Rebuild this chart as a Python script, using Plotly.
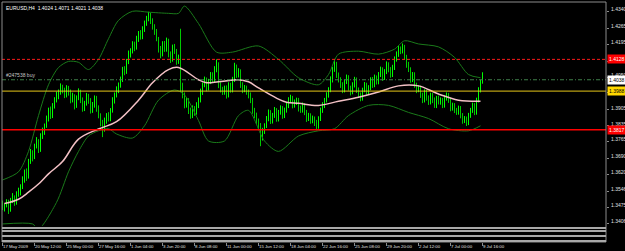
import plotly.graph_objects as go

# ---------------- data (EURUSD H4) ----------------
first_open = 1.3490
closes = [1.3475,1.3484,1.3497,1.3466,1.3506,1.3520,1.3497,1.3533,1.3542,
          1.3565,1.3596,1.3632,1.3610,1.3677,1.3713,
          1.3700,1.3745,1.3767,1.3731,1.3790,1.3812,1.3835,
          1.3866,1.3903,1.3880,1.3925,1.3948,1.3970,1.3984,1.4002,
          1.3993,1.3970,1.4002,1.3984,1.3948,1.3966,1.3925,1.3957,1.3984,1.3948,1.3912,1.3934,1.3966,1.3948,1.3903,1.3925,1.3957,1.3912,1.3880,
          1.3849,1.3821,1.3857,1.3880,1.3866,1.3903,
          1.3948,1.3970,1.3993,1.4015,1.4038,1.4083,1.4074,1.4119,1.4151,
          1.4164,1.4196,1.4182,1.4218,1.4241,1.4227,1.4263,
          1.4286,1.4308,1.4322,1.4299,1.4272,1.4250,
          1.4218,1.4173,1.4151,1.4196,
          1.4173,1.4209,1.4151,1.4128,1.4182,1.4164,1.4119,1.4137,
          1.4015,
          1.3970,1.3925,1.3948,1.3903,1.3880,1.3912,1.3894,1.3925,1.3948,
          1.3984,1.4015,1.4038,1.4002,1.4029,
          1.4060,1.4038,1.4083,1.4105,1.4015,
          1.3993,1.3984,1.4002,1.3970,1.4015,1.3993,
          1.4038,1.4083,1.4060,1.4074,
          1.4015,1.3993,1.4002,1.3984,1.3970,
          1.3948,1.3903,1.3880,1.3857,1.3835,1.3790,1.3812,1.3835,
          1.3866,1.3894,1.3857,1.3880,1.3903,1.3866,1.3894,1.3912,1.3880,1.3903,1.3925,
          1.3948,1.3957,1.3925,1.3939,1.3948,1.3912,
          1.3903,1.3925,1.3894,1.3866,1.3880,1.3857,1.3866,1.3849,1.3835,
          1.3866,1.3903,1.3925,1.3948,1.3970,1.3993,1.4038,1.4083,1.4105,1.4060,
          1.4038,1.4015,1.3993,1.4029,1.4047,1.4002,1.3984,1.4015,1.4038,1.3993,
          1.3970,1.3957,1.3993,1.4015,1.3984,1.4002,1.4038,1.4015,1.4047,1.4029,
          1.4060,1.4083,1.4047,1.4074,1.4105,1.4083,1.4060,1.4092,
          1.4128,1.4151,1.4173,1.4164,1.4182,1.4137,1.4105,
          1.4083,1.4038,1.4060,1.4015,1.3993,1.4002,
          1.3970,1.3948,1.3984,1.3957,1.3939,1.3970,1.3948,1.3925,1.3957,1.3939,
          1.3948,1.3925,1.3957,1.3970,1.3948,1.3912,1.3925,1.3903,1.3894,1.3912,
          1.3880,1.3857,1.3866,1.3849,1.3880,
          1.3903,1.3925,1.3894,1.3948,
          1.3993,1.4024,1.4038]
highs = [1.3505,1.3494,1.3511,1.3509,1.3517,1.3538,1.3528,1.3546,1.3562,
         1.3577,1.3612,1.3642,1.3647,1.3689,1.3733,
         1.3727,1.3756,1.3785,1.3776,1.3802,1.3827,1.3845,
         1.3880,1.3915,1.3920,1.3935,1.3961,1.3986,1.3995,1.4022,
         1.4016,1.4003,1.4014,1.4011,1.3995,1.3981,1.3974,1.3969,1.4000,1.3994,1.3960,1.3945,1.3980,1.3976,1.3957,1.3940,1.3969,1.3967,1.3925,
         1.3890,1.3861,1.3871,1.3891,1.3895,1.3913,
         1.3961,1.3982,1.4009,1.4026,1.4052,1.4095,1.4098,1.4130,1.4167,
         1.4177,1.4208,1.4206,1.4232,1.4253,1.4257,1.4274,
         1.4299,1.4320,1.4338,1.4334,1.4309,1.4283,
         1.4262,1.4227,1.4187,1.4208,
         1.4209,1.4224,1.4219,1.4163,1.4193,1.4196,1.4174,1.4149,
         1.4263,
         1.4025,1.3982,1.3959,1.3957,1.3915,1.3925,1.3922,1.3939,1.3960,
         1.3999,1.4026,1.4052,1.4048,1.4042,
         1.4072,1.4071,1.4098,1.4128,1.4115,
         1.4027,1.4007,1.4012,1.4013,1.4027,1.4025,
         1.4051,1.4113,1.4105,1.4089,
         1.4084,1.4027,1.4015,1.4012,1.3995,
         1.3982,1.3958,1.3914,1.3893,1.3867,1.3847,1.3826,1.3846,
         1.3878,1.3907,1.3904,1.3892,1.3918,1.3913,1.3905,1.3925,1.3922,1.3915,1.3939,
         1.3961,1.3972,1.3967,1.3951,1.3959,1.3958,
         1.3924,1.3938,1.3935,1.3905,1.3892,1.3890,1.3880,1.3876,1.3861,
         1.3877,1.3915,1.3939,1.3958,1.3983,1.4005,1.4053,1.4095,1.4130,1.4117,
         1.4070,1.4049,1.4027,1.4039,1.4061,1.4058,1.4012,1.4027,1.4051,1.4048,
         1.4004,1.3982,1.4003,1.4028,1.4025,1.4014,1.4049,1.4050,1.4061,1.4057,
         1.4072,1.4096,1.4093,1.4085,1.4119,1.4115,1.4094,1.4104,
         1.4141,1.4163,1.4188,1.4185,1.4198,1.4192,1.4148,
         1.4117,1.4093,1.4072,1.4071,1.4025,1.4014,
         1.4012,1.3981,1.3996,1.3994,1.3969,1.3981,1.3980,1.3960,1.3967,1.3968,
         1.3960,1.3958,1.3970,1.3982,1.3980,1.3959,1.3937,1.3935,1.3914,1.3924,
         1.3922,1.3891,1.3878,1.3876,1.3892,
         1.3914,1.3937,1.3935,1.3959,
         1.4005,1.4038,1.4071]
lows = [1.3463,1.3457,1.3475,1.3446,1.3456,1.3494,1.3482,1.3487,1.3522,
        1.3528,1.3556,1.3584,1.3592,1.3602,1.3667,
        1.3678,1.3688,1.3735,1.3715,1.3720,1.3777,1.3795,
        1.3826,1.3854,1.3865,1.3869,1.3911,1.3938,1.3952,1.3972,
        1.3978,1.3957,1.3960,1.3968,1.3934,1.3938,1.3907,1.3914,1.3948,1.3935,1.3897,1.3900,1.3924,1.3932,1.3889,1.3892,1.3915,1.3897,1.3868,
        1.3833,1.3785,1.3809,1.3844,1.3854,1.3855,
        1.3893,1.3933,1.3960,1.3979,1.4003,1.4028,1.4058,1.4064,1.4107,
        1.4136,1.4154,1.4164,1.4171,1.4205,1.4215,1.4217,
        1.4249,1.4276,1.4296,1.4284,1.4259,1.4236,
        1.4208,1.4158,1.4133,1.4141,
        1.4161,1.4162,1.4137,1.4112,1.4118,1.4152,1.4104,1.4108,
        1.3984,
        1.3956,1.3912,1.3915,1.3887,1.3866,1.3869,1.3879,1.3884,1.3913,
        1.3938,1.3971,1.4005,1.3987,1.3991,
        1.4019,1.4024,1.4028,1.4071,1.4001,
        1.3982,1.3971,1.3972,1.3955,1.3960,1.3981,
        1.3982,1.4028,1.4046,1.4048,
        1.4002,1.3979,1.3983,1.3972,1.3956,
        1.3935,1.3888,1.3868,1.3843,1.3820,1.3745,1.3770,1.3799,
        1.3825,1.3855,1.3843,1.3845,1.3870,1.3853,1.3854,1.3884,1.3866,1.3869,1.3893,
        1.3913,1.3937,1.3912,1.3915,1.3927,1.3898,
        1.3892,1.3893,1.3882,1.3852,1.3856,1.3844,1.3846,1.3834,1.3815,
        1.3822,1.3856,1.3892,1.3913,1.3938,1.3959,1.3983,1.4026,1.4073,1.4046,
        1.4026,1.4002,1.3979,1.3982,1.4019,1.3990,1.3969,1.3974,1.4004,1.3980,
        1.3958,1.3943,1.3946,1.3983,1.3972,1.3973,1.3992,1.4002,1.4005,1.4017,
        1.4018,1.4050,1.4033,1.4037,1.4063,1.4071,1.4047,1.4050,
        1.4081,1.4118,1.4139,1.4151,1.4154,1.4125,1.4091,
        1.4072,1.4025,1.4028,1.4003,1.3979,1.3983,
        1.3958,1.3935,1.3938,1.3946,1.3927,1.3929,1.3935,1.3914,1.3913,1.3929,
        1.3928,1.3913,1.3915,1.3946,1.3936,1.3899,1.3902,1.3891,1.3883,1.3884,
        1.3868,1.3844,1.3847,1.3834,1.3838,
        1.3870,1.3892,1.3882,1.3884,
        1.3938,1.3982,1.4021]
opens = [first_open] + closes[:-1]
bars = list(range(len(closes)))

# moving average (pink) read at knots
ma_bars = [1,8,13,18,23,30,38,48,57,68,75,83,88,98,102,108,118,123,128,137,142,148,158,168,178,188,198,208,218,228,239]
ma_vals = [1.3492,1.3511,1.3542,1.3578,1.3623,1.3677,1.3776,1.3821,1.3853,1.3948,1.4025,1.4083,1.4092,1.4038,1.4025,
           1.4029,1.4038,1.4029,1.4002,1.3957,1.3939,1.3934,1.3925,1.3943,1.3961,1.3984,1.4011,1.4011,1.3975,1.3948,1.3943]

# Bollinger bands read at knots
ub_bars = [0,8,13,18,23,28,33,38,43,48,53,58,65,73,83,88,91,98,107,115,128,138,148,158,163,168,178,188,196,201,208,218,226,233,239]
ub_vals = [1.3596,1.3632,1.3722,1.3880,1.4016,1.4092,1.4119,1.4115,1.4083,1.4128,1.4219,1.4300,1.4340,1.4336,1.4331,1.4331,
           1.4363,1.4286,1.4160,1.4160,1.4187,1.4128,1.4047,1.4016,1.4061,1.4151,1.4164,1.4151,1.4173,1.4210,1.4196,1.4183,
           1.4137,1.4061,1.4047]
lb_bars = [0,15,18,27,33,38,43,48,53,57,65,71,78,86,91,98,103,111,118,123,131,138,148,158,166,173,183,193,203,213,223,233,239]
lb_vals = [1.3402,1.3402,1.3380,1.3497,1.3632,1.3722,1.3790,1.3813,1.3822,1.3799,1.3781,1.3835,1.3948,1.3993,1.3971,1.3858,
           1.3768,1.3768,1.3880,1.3903,1.3768,1.3722,1.3790,1.3813,1.3822,1.3880,1.3925,1.3925,1.3894,1.3867,1.3822,1.3813,1.3835]

time_ticks = [0,16,32,48,64,80,96,112,128,144,160,176,192,208,224,240]
time_labels = ["17 May 2009","20 May 12:00","25 May 00:00","27 May 16:00","1 Jun 04:00","3 Jun 20:00",
               "8 Jun 08:00","11 Jun 00:00","15 Jun 12:00","18 Jun 04:00","22 Jun 16:00","25 Jun 08:00",
               "29 Jun 20:00","2 Jul 12:00","7 Jul 00:00","9 Jul 16:00"]
price_ticks = [1.4340,1.4265,1.4195,1.4120,1.4050,1.3980,1.3905,1.3835,1.3765,1.3690,1.3620,1.3546,1.3475,1.3406]
# tick labels hidden behind the price-level boxes
hidden_ticks = [1.4120, 1.3980]

level_red_dash = 1.4128
level_buy = 1.4038
level_yellow = 1.3988
level_red = 1.3817
header = "EURUSD,H4  1.4024 1.4071 1.4021 1.4038"
order_text = "#247538 buy"

FONT = "Liberation Sans, Arial, sans-serif"
GREY = "#8c8c8c"

fig = go.Figure()
fig.add_trace(go.Scatter(x=ub_bars, y=ub_vals, mode="lines",
                         line=dict(color="#1a7a1a", width=1, shape="spline", smoothing=0.8), hoverinfo="skip"))
fig.add_trace(go.Scatter(x=lb_bars, y=lb_vals, mode="lines",
                         line=dict(color="#1a7a1a", width=1, shape="spline", smoothing=0.8), hoverinfo="skip"))
fig.add_trace(go.Ohlc(x=bars, open=opens, high=highs, low=lows, close=closes,
                      increasing=dict(line=dict(color="#00ff00", width=1)),
                      decreasing=dict(line=dict(color="#00c800", width=1)),
                      tickwidth=0.2))
fig.add_trace(go.Scatter(x=ma_bars, y=ma_vals, mode="lines",
                         line=dict(color="#f2c0c4", width=1.5, shape="spline", smoothing=1.0), hoverinfo="skip"))

shapes = [
    dict(type="line", xref="paper", x0=0, x1=1, yref="y", y0=level_red_dash, y1=level_red_dash,
         line=dict(color="#ff1a1a", width=1, dash="3px,2px")),
    dict(type="line", xref="paper", x0=0, x1=1, yref="y", y0=level_buy, y1=level_buy,
         line=dict(color="#3f7f4a", width=1, dash="4px,2px,1px,2px")),
    dict(type="line", xref="paper", x0=0, x1=1, yref="y", y0=level_yellow, y1=level_yellow,
         line=dict(color="#e6c619", width=1)),
    dict(type="line", xref="paper", x0=0, x1=1, yref="y", y0=level_red, y1=level_red,
         line=dict(color="#ff0000", width=1.5)),
    dict(type="rect", xref="paper", yref="paper", x0=0, x1=1, y0=0, y1=1,
         line=dict(color=GREY, width=1)),
]
for yp in [0.0583, 0.0458, 0.025, 0.004]:
    shapes.append(dict(type="line", xref="paper", yref="paper", x0=0, x1=1, y0=yp, y1=yp,
                       line=dict(color="#a8a8a8", width=2)))

annotations = [
    dict(text=header, xref="paper", yref="paper", x=0, y=1, xanchor="left", yanchor="top",
         xshift=2, yshift=-1, showarrow=False, font=dict(family=FONT, size=5, color="#ffffff")),
    dict(text=order_text, xref="paper", yref="y", x=0, y=level_buy, xanchor="left", yanchor="bottom",
         xshift=2, yshift=0, showarrow=False, font=dict(family=FONT, size=5, color="#c8c8c8")),
]
for val, bg, fg in [(level_red_dash, "#ff0000", "#ffffff"), (level_buy, "#ffffff", "#000000"),
                    (level_yellow, "#ffd800", "#000000"), (level_red, "#ff0000", "#ffffff")]:
    annotations.append(dict(text=f"{val:.4f}", xref="paper", yref="y", x=1, y=val, xanchor="left",
                            yanchor="middle", xshift=1, showarrow=False, bgcolor=bg, borderpad=1,
                            font=dict(family=FONT, size=5, color=fg)))

fig.update_layout(
    width=625, height=251, margin=dict(l=2, r=19, t=2, b=9, autoexpand=False),
    paper_bgcolor="#000000", plot_bgcolor="#000000", showlegend=False,
    shapes=shapes, annotations=annotations,
    xaxis=dict(range=[-0.25, 301.75], anchor="free", position=0, automargin=False,
               tickmode="array", tickvals=time_ticks, ticktext=time_labels, tickangle=0,
               ticks="outside", ticklen=3, tickcolor=GREY, ticklabelposition="outside right",
               tickfont=dict(family=FONT, size=4.3, color="#e0e0e0"),
               showgrid=False, zeroline=False, showline=False,
               rangeslider=dict(visible=False), fixedrange=True),
    yaxis=dict(domain=[0.0667, 1], range=[1.3393, 1.4381], side="right", anchor="x", automargin=False,
               tickmode="array", tickvals=price_ticks,
               ticktext=["" if v in hidden_ticks else f"{v:.4f}" for v in price_ticks],
               ticks="outside", ticklen=2, tickcolor=GREY, ticklabelshift=-2, ticklabelstandoff=1,
               tickfont=dict(family=FONT, size=5, color="#e0e0e0"),
               showgrid=False, zeroline=False, showline=False, fixedrange=True),
)

fig.write_html("out.html")
